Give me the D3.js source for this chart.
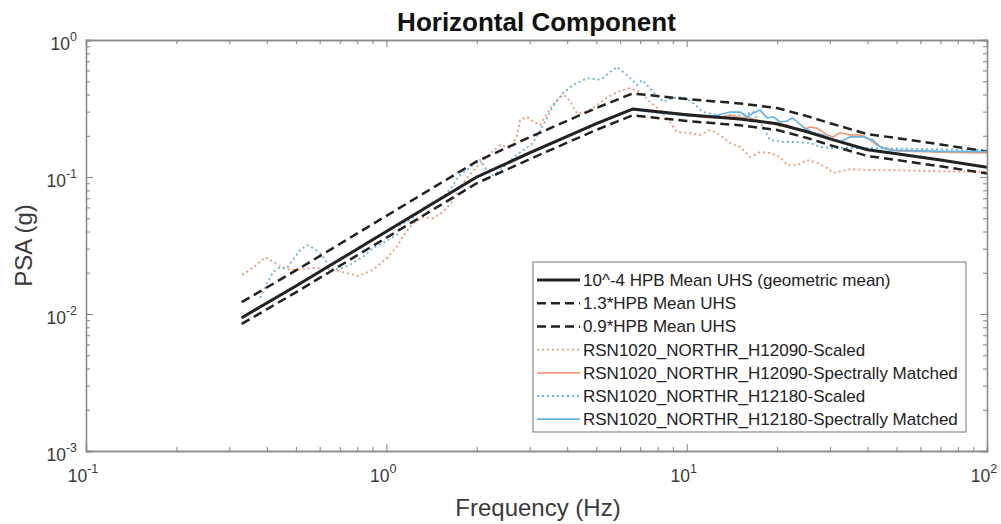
<!DOCTYPE html>
<html><head><meta charset="utf-8">
<script src="https://cdn.jsdelivr.net/npm/d3@7/dist/d3.min.js"></script>
<style>
body{margin:0;background:#fff;}
svg{display:block;font-family:"Liberation Sans",Arial,Helvetica,sans-serif;}
</style></head>
<body><svg id="c" width="1001" height="524"></svg>
<script>
// ---------- data ----------
const title = "Horizontal Component";
const xLabel = "Frequency (Hz)";
const yLabel = "PSA (g)";
const xMajorTicks = [0.1, 1, 10, 100];
const xTickExp = ["-1", "0", "1", "2"];
const yMajorTicks = [0.001, 0.01, 0.1, 1];
const yTickExp = ["-3", "-2", "-1", "0"];

const meanFreq = [0.33, 0.5, 1, 2, 3, 5, 6.6, 10, 15, 20, 25, 30, 40, 50, 70, 100];
const meanUHS  = [0.0094, 0.016, 0.040, 0.100, 0.15, 0.245, 0.313, 0.285, 0.265, 0.245, 0.215, 0.19, 0.158, 0.148, 0.133, 0.118];
const upperUHS = [0.0122, 0.0208, 0.052, 0.130, 0.195, 0.3185, 0.407, 0.3705, 0.3445, 0.3185, 0.2795, 0.247, 0.2054, 0.1924, 0.1729, 0.1534];
const lowerUHS = [0.00846, 0.0144, 0.036, 0.090, 0.135, 0.2205, 0.2817, 0.2565, 0.2385, 0.2205, 0.1935, 0.171, 0.1422, 0.1332, 0.1197, 0.1062];

const h090ScaledFreq = [0.331, 0.36, 0.395, 0.426, 0.46, 0.504, 0.57, 0.649, 0.74, 0.805, 0.903, 1.005, 1.085, 1.137, 1.227, 1.325, 1.431, 1.545, 1.655, 1.76, 1.90, 2.05, 2.215, 2.39, 2.58, 2.725, 2.787, 2.94, 3.08, 3.25, 3.43, 3.59, 3.88, 4.09, 4.32, 4.66, 5.03, 5.43, 5.87, 6.48, 7.0, 7.55, 8.15, 8.8, 9.29, 10.03, 11.08, 11.97, 12.91, 13.95, 15.06, 16.26, 17.56, 18.96, 20.46, 21.59, 23.32, 25.18, 27.18, 29.35, 30.73, 35, 40, 50, 70, 100];
const h090Scaled     = [0.0193, 0.0217, 0.026, 0.0236, 0.0213, 0.021, 0.0217, 0.0213, 0.0199, 0.0189, 0.021, 0.0256, 0.031, 0.037, 0.046, 0.051, 0.050, 0.0556, 0.066, 0.0845, 0.105, 0.125, 0.148, 0.171, 0.163, 0.20, 0.26, 0.275, 0.255, 0.24, 0.29, 0.34, 0.40, 0.36, 0.29, 0.30, 0.335, 0.38, 0.417, 0.446, 0.417, 0.353, 0.308, 0.252, 0.213, 0.21, 0.203, 0.22, 0.203, 0.177, 0.166, 0.14, 0.152, 0.15, 0.14, 0.122, 0.122, 0.133, 0.127, 0.116, 0.107, 0.114, 0.1125, 0.112, 0.11, 0.109];

const h090MatchedFreq = [0.33, 0.5, 1, 2, 3, 5, 6.6, 8, 10, 11.08, 12.91, 13.95, 15.06, 15.89, 17.56, 18.96, 20.46, 21.59, 22.5, 24.42, 25.76, 27.18, 29.35, 30.73, 32.4, 35, 37.8, 39.9, 43, 45.1, 50, 70, 100];
const h090Matched     = [0.0094, 0.0161, 0.0402, 0.101, 0.152, 0.246, 0.315, 0.30, 0.288, 0.274, 0.27, 0.284, 0.27, 0.274, 0.256, 0.248, 0.236, 0.24, 0.227, 0.22, 0.232, 0.227, 0.203, 0.196, 0.21, 0.203, 0.203, 0.193, 0.171, 0.163, 0.155, 0.152, 0.15];

const h180ScaledFreq = [0.38, 0.401, 0.42, 0.443, 0.467, 0.489, 0.516, 0.545, 0.57, 0.601, 0.635, 0.664, 0.718, 0.775, 0.836, 0.903, 0.975, 1.085, 1.11, 1.227, 1.325, 1.431, 1.545, 1.655, 1.733, 1.90, 2.05, 2.164, 2.266, 2.447, 2.642, 2.853, 3.08, 3.25, 3.43, 3.59, 3.88, 4.18, 4.52, 4.77, 5.03, 5.27, 5.56, 5.87, 6.14, 6.48, 6.84, 7.10, 7.38, 7.73, 8.15, 8.35, 9.01, 9.73, 10.5, 11.34, 12.5, 13.95, 15.41, 16.64, 17.97, 18.96, 20.94, 23.32, 25.76, 27.8, 30, 40, 60, 100];
const h180Scaled     = [0.0131, 0.0168, 0.0203, 0.022, 0.0217, 0.0248, 0.0293, 0.0319, 0.0303, 0.0279, 0.0236, 0.021, 0.0217, 0.0236, 0.0261, 0.0303, 0.033, 0.0377, 0.0447, 0.0502, 0.0594, 0.0657, 0.0715, 0.0845, 0.100, 0.118, 0.133, 0.112, 0.103, 0.116, 0.138, 0.157, 0.177, 0.22, 0.27, 0.33, 0.41, 0.469, 0.511, 0.528, 0.511, 0.528, 0.584, 0.635, 0.584, 0.528, 0.469, 0.511, 0.469, 0.417, 0.377, 0.353, 0.377, 0.384, 0.347, 0.298, 0.284, 0.274, 0.284, 0.298, 0.232, 0.186, 0.180, 0.180, 0.177, 0.166, 0.163, 0.163, 0.16, 0.157];

const h180MatchedFreq = [0.33, 0.5, 1, 2, 3, 5, 6.6, 8, 10, 11.97, 13.95, 15.06, 15.89, 16.64, 17.56, 18.5, 19.5, 20.46, 21.59, 22.5, 24.42, 26.36, 28.4, 30.73, 32.4, 35, 38.6, 41.8, 44.1, 47.5, 70, 100];
const h180Matched     = [0.0093, 0.0159, 0.0398, 0.099, 0.149, 0.243, 0.31, 0.295, 0.28, 0.274, 0.298, 0.298, 0.274, 0.293, 0.308, 0.27, 0.274, 0.252, 0.256, 0.27, 0.232, 0.21, 0.203, 0.186, 0.18, 0.196, 0.196, 0.186, 0.166, 0.157, 0.154, 0.153];

const seriesNames = ["10^-4 HPB Mean UHS (geometric mean)", "1.3*HPB Mean UHS", "0.9*HPB Mean UHS",
  "RSN1020_NORTHR_H12090-Scaled", "RSN1020_NORTHR_H12090-Spectrally Matched",
  "RSN1020_NORTHR_H12180-Scaled", "RSN1020_NORTHR_H12180-Spectrally Matched"];

// ---------- layout ----------
const svg = d3.select("#c");
const L = 86, R = 987, T = 40, B = 451;
const x = d3.scaleLog().domain([0.1, 100]).range([L, R]);
const y = d3.scaleLog().domain([0.001, 1]).range([B, T]);
const ORANGE = "#f09c78", BLUE = "#6ab3e4", DARK = "#222", AX = "#8a8a8a";

const styles = [
  {color: DARK, w: 3, dash: null},
  {color: DARK, w: 2.5, dash: "9,5"},
  {color: DARK, w: 2.5, dash: "9,5"},
  {color: ORANGE, w: 1.9, dash: "2,3"},
  {color: ORANGE, w: 1.7, dash: null},
  {color: BLUE, w: 1.9, dash: "2,3"},
  {color: BLUE, w: 1.7, dash: null}
];
const seriesData = [
  [meanFreq, meanUHS], [meanFreq, upperUHS], [meanFreq, lowerUHS],
  [h090ScaledFreq, h090Scaled], [h090MatchedFreq, h090Matched],
  [h180ScaledFreq, h180Scaled], [h180MatchedFreq, h180Matched]
];

svg.append("clipPath").attr("id","clip").append("rect").attr("x",L).attr("y",T).attr("width",R-L).attr("height",B-T);

const line = d3.line().x(d => x(d[0])).y(d => y(d[1]));
const drawOrder = [3, 5, 1, 2, 4, 6, 0];
const g = svg.append("g").attr("clip-path","url(#clip)");
drawOrder.forEach(i => {
  const [fx, vy] = seriesData[i];
  const pts = fx.map((f, k) => [f, vy[k]]);
  g.append("path").attr("d", line(pts)).attr("fill","none")
    .attr("stroke", styles[i].color).attr("stroke-width", styles[i].w)
    .attr("stroke-dasharray", styles[i].dash)
    .attr("stroke-linejoin","round");
});

// ---------- axes ----------
function minorTicks(dom){
  const out=[]; for(let e=Math.log10(dom[0]); e<Math.log10(dom[1]); e++){ for(let m=2;m<=9;m++) out.push(m*Math.pow(10,e)); } return out;
}
const xMinor = minorTicks([0.1,100]), yMinor = minorTicks([0.001,1]);
const axG = svg.append("g");
function addAxis(axisFn, scale, ticks, size, tr){
  const a = axisFn(scale).tickValues(ticks).tickSize(size).tickFormat("");
  const gg = axG.append("g").attr("transform", tr).call(a);
  gg.select(".domain").attr("stroke", AX).attr("stroke-width", 1.3);
  gg.selectAll(".tick line").attr("stroke", AX).attr("stroke-width", 1.1);
}
addAxis(d3.axisBottom, x, xMajorTicks, -7, `translate(0,${B})`);
addAxis(d3.axisBottom, x, xMinor, -4, `translate(0,${B})`);
addAxis(d3.axisTop, x, xMajorTicks, -7, `translate(0,${T})`);
addAxis(d3.axisTop, x, xMinor, -4, `translate(0,${T})`);
addAxis(d3.axisLeft, y, yMajorTicks, -7, `translate(${L},0)`);
addAxis(d3.axisLeft, y, yMinor, -4, `translate(${L},0)`);
addAxis(d3.axisRight, y, yMajorTicks, -7, `translate(${R},0)`);
addAxis(d3.axisRight, y, yMinor, -4, `translate(${R},0)`);

const labColor = "#3a3a3a";
xMajorTicks.forEach((t, i) => {
  const tx = svg.append("text").attr("x", x(t)-3).attr("y", B+31).attr("text-anchor","middle")
    .attr("font-size", 17.5).attr("fill", labColor);
  tx.append("tspan").text("10");
  tx.append("tspan").attr("dy", -9).attr("font-size", 12.5).text(xTickExp[i]);
});
yMajorTicks.forEach((t, i) => {
  const tx = svg.append("text").attr("x", L-9).attr("y", y(t)+10).attr("text-anchor","end")
    .attr("font-size", 17.5).attr("fill", labColor);
  tx.append("tspan").text("10");
  tx.append("tspan").attr("dy", -9).attr("font-size", 12.5).text(yTickExp[i]);
});

svg.append("text").attr("x", (L+R)/2).attr("y", 31).attr("text-anchor","middle")
  .attr("font-size", 26).attr("font-weight","bold").attr("fill","#111").text(title);
svg.append("text").attr("x", 538).attr("y", 516).attr("text-anchor","middle")
  .attr("font-size", 24).attr("fill", labColor).text(xLabel);
svg.append("text").attr("transform", `translate(32,${(T+B)/2}) rotate(-90)`).attr("text-anchor","middle")
  .attr("font-size", 24).attr("fill", labColor).text(yLabel);

// ---------- legend ----------
const lg = svg.append("g");
const LX = 533, LY = 262, LW = 433, LH = 170;
lg.append("rect").attr("x", LX).attr("y", LY).attr("width", LW).attr("height", LH)
  .attr("fill","#fff").attr("stroke", AX).attr("stroke-width", 1.2);
seriesNames.forEach((name, i) => {
  const yy = LY + 18 + i*23.2;
  lg.append("line").attr("x1", LX+4).attr("x2", LX+47).attr("y1", yy).attr("y2", yy)
    .attr("stroke", styles[i].color).attr("stroke-width", styles[i].w)
    .attr("stroke-dasharray", styles[i].dash);
  lg.append("text").attr("x", LX+50).attr("y", yy+6).attr("font-size", 17).attr("fill","#222").text(name);
});
</script></body></html>
